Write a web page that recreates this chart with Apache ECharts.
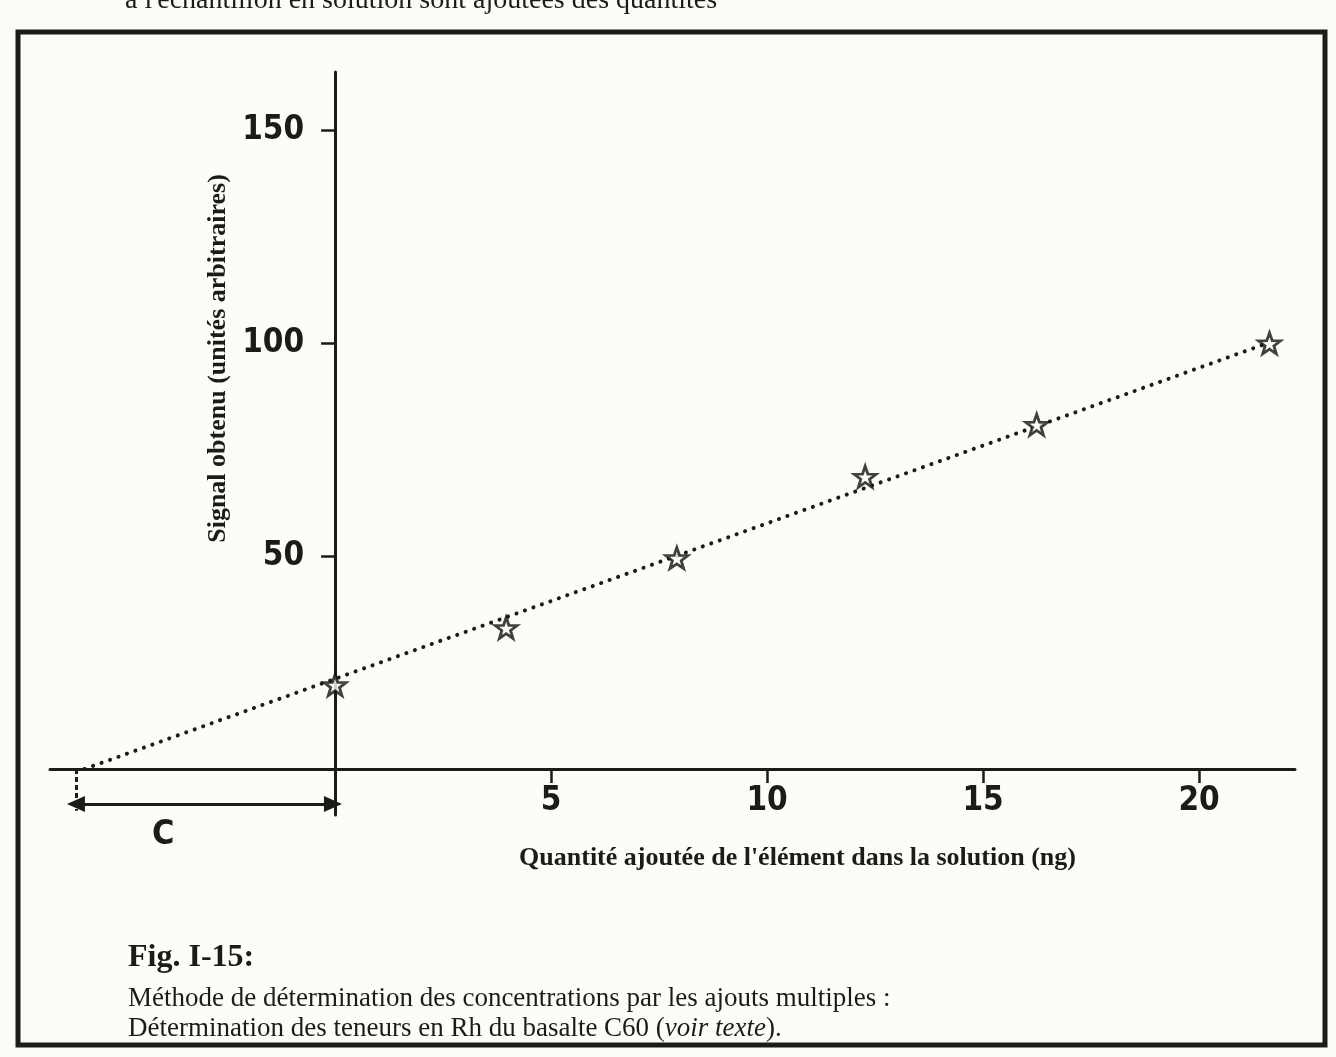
<!DOCTYPE html>
<html>
<head>
<meta charset="utf-8">
<script src="https://cdn.jsdelivr.net/npm/echarts@6/dist/echarts.min.js"></script>
<style>
  html, body { margin: 0; padding: 0; background: #fdfdf8; }
  #chart { width: 1336px; height: 1057px; }
</style>
</head>
<body>
<div id="chart"></div>
<script>
// ---- data ----
const addedX  = [0, 3.96, 7.91, 12.27, 16.24, 21.63];      // ng added (as drawn)
const signalY = [19.7, 33.1, 49.5, 68.6, 80.8, 99.9];      // signal (arbitrary units)
const fitX = [-5.8, 21.46];                                 // dotted regression line ends
const fitY = [0, 99.5];
const cStartX = -6.0;        // -C (x-intercept) marker
const cArrowY = -8.2;        // height of the C double arrow
const cDropY  = -9.8;        // bottom of the dashed drop line
const xTickValues = [5, 10, 15, 20];
const yTickValues = [50, 100, 150];

const xName = "Quantité ajoutée de l'élément dans la solution (ng)";
const yName = "Signal obtenu (unités arbitraires)";
const figTitle = "Fig. I-15:";
const captionLine1 = "Méthode de détermination des concentrations par les ajouts multiples :";
const captionLine2 = "Détermination des teneurs en Rh du basalte C60 ({i|voir texte}).";
const pageText = "à l'échantillon en solution sont ajoutées des quantités";

const ink = '#1b1b1b';
const paper = '#fdfdf8';
const serif = "'Liberation Serif', 'Times New Roman', 'DejaVu Serif', serif";
const narrow = "'Liberation Sans Narrow', 'DejaVu Sans Condensed', sans-serif";
const starPath = 'path://M10 0 L12.351 6.764 L19.511 6.910 L13.804 11.236 L15.878 18.090 L10 14 L4.122 18.090 L6.196 11.236 L0.489 6.910 L7.649 6.764 Z';

const gridLeft = 50, gridRight = 41, gridTop = 72, gridBottom = 242;
const xMin = -6.6, xMax = 22.22, yMin = -10.8, yMax = 163.6;

const chart = echarts.init(document.getElementById('chart'), null, { renderer: 'canvas' });

// place the axes on the zero lines through the library's own scale
const plotW = 1336 - gridLeft - gridRight;
const plotH = 1057 - gridTop - gridBottom;
const yAxisOffset = -((0 - xMin) / (xMax - xMin)) * plotW;   // move y axis onto x = 0
const xAxisOffset = -((0 - yMin) / (yMax - yMin)) * plotH;   // move x axis onto y = 0

const option = {
  backgroundColor: paper,
  animation: false,
  title: {
    text: figTitle,
    subtext: captionLine1 + '\n' + captionLine2,
    left: 128,
    top: 942,
    padding: 0,
    itemGap: 10,
    textStyle: { fontFamily: serif, fontWeight: 'bold', fontSize: 32, color: ink },
    subtextStyle: {
      fontFamily: serif, fontSize: 27, color: ink, lineHeight: 30,
      rich: { i: { fontFamily: serif, fontStyle: 'italic', fontSize: 27, color: ink, lineHeight: 30 } }
    }
  },
  grid: { left: gridLeft, right: gridRight, top: gridTop, bottom: gridBottom, containLabel: false, outerBoundsMode: 'none' },
  xAxis: {
    type: 'value',
    min: xMin, max: xMax,
    offset: xAxisOffset,
    name: xName,
    nameLocation: 'middle',
    nameGap: 76,
    nameTextStyle: { fontFamily: serif, fontWeight: 'bold', fontSize: 26, color: ink, padding: [0, 0, 0, 250] },
    axisLine: { onZero: false, lineStyle: { color: ink, width: 3 } },
    axisTick: { show: true, length: 14, customValues: xTickValues, lineStyle: { color: ink, width: 2.5 } },
    axisLabel: { customValues: xTickValues, margin: 16, fontFamily: narrow, fontWeight: 'bold', fontSize: 33, color: ink },
    splitLine: { show: false }
  },
  yAxis: {
    type: 'value',
    min: yMin, max: yMax,
    offset: yAxisOffset,
    name: yName,
    nameLocation: 'middle',
    nameGap: 90,
    nameTextStyle: { fontFamily: serif, fontWeight: 'bold', fontSize: 26, color: ink, padding: [0, 0, 0, 170] },
    axisLine: { onZero: false, lineStyle: { color: ink, width: 3 } },
    axisTick: { show: true, length: 14, customValues: yTickValues, lineStyle: { color: ink, width: 2.5 } },
    axisLabel: { customValues: yTickValues, margin: 31, fontFamily: narrow, fontWeight: 'bold', fontSize: 33, color: ink },
    splitLine: { show: false }
  },
  series: [
    {
      type: 'line',
      name: 'droite',
      data: fitX.map((x, i) => [x, fitY[i]]),
      showSymbol: false,
      symbol: 'none',
      silent: true,
      z: 2,
      lineStyle: { color: ink, width: 4, type: [0.1, 8.9], cap: 'round' },
      markLine: {
        silent: true,
        animation: false,
        symbol: ['triangle', 'triangle'],
        symbolSize: [16, 18],
        label: { show: false },
        lineStyle: { color: ink, width: 3, type: 'solid' },
        emphasis: { disabled: true },
        data: [
          [ { coord: [cStartX, cArrowY] }, { coord: [-0.05, cArrowY] } ],
          [ { coord: [cStartX, 0], symbol: 'none', lineStyle: { color: ink, width: 3, type: [5, 3] } },
            { coord: [cStartX, cDropY], symbol: 'none' } ]
        ]
      }
    },
    {
      type: 'scatter',
      name: 'mesures',
      data: addedX.map((x, i) => [x, signalY[i]]),
      symbol: starPath,
      symbolSize: [22, 21],
      z: 3,
      itemStyle: { color: paper, borderColor: '#111', borderWidth: 2.8 }
    }
  ],
  graphic: [
    {
      type: 'rect', silent: true, z: 0,
      shape: { x: 18, y: 32, width: 1307, height: 1013 },
      style: { fill: 'none', stroke: ink, lineWidth: 5 }
    },
    {
      type: 'text', silent: true, left: 125, top: -13,
      style: { text: pageText, font: "28px 'Liberation Serif', serif", fill: ink }
    },
    {
      type: 'text', silent: true, left: 152, top: 818,
      style: { text: 'C', font: "bold 34px 'Liberation Sans Narrow', 'DejaVu Sans Condensed', sans-serif", fill: ink }
    }
  ]
};

chart.setOption(option);
</script>
</body>
</html>
